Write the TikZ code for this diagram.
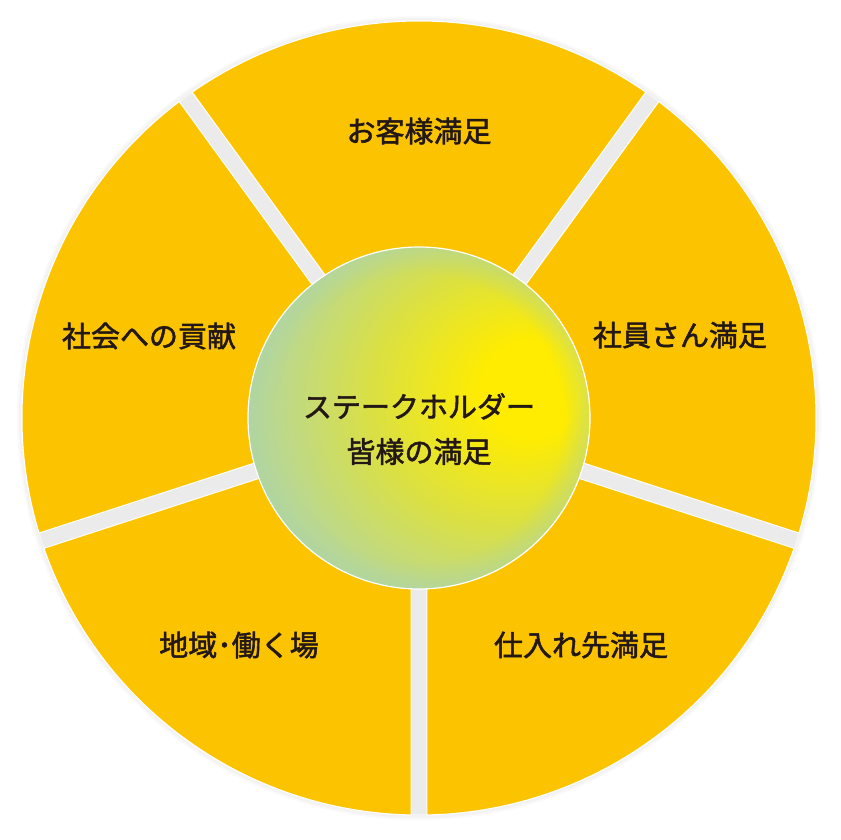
\documentclass[tikz,border=0pt]{standalone}
\usepackage{fontspec}
\setmainfont{Noto Sans CJK JP}
\newfontfamily\labelfont{Noto Sans CJK JP}[FakeBold=1.8]
\usepackage{xcolor}
\usepackage{tikz}
\usetikzlibrary{fadings}

\definecolor{secyellow}{HTML}{FCC400}
\definecolor{gapgrey}{HTML}{EBEBEB}
\definecolor{hubyellow}{HTML}{FFEC00}
\definecolor{hubmid}{HTML}{DAE044}
\definecolor{hubgreen}{HTML}{BBD88E}
\definecolor{hubteal}{HTML}{A6D3B6}
\definecolor{inkblack}{HTML}{231815}

\pgfdeclareradialshading{hubshade}{\pgfpoint{19bp}{5bp}}{color(0bp)=(hubyellow); color(7bp)=(hubyellow); color(19bp)=(hubmid); color(29bp)=(hubgreen); color(42bp)=(hubteal); color(50bp)=(hubteal)}
\pgfdeclareradialshading{rimshade}{\pgfpointorigin}{color(0bp)=(pgftransparent!100); color(21bp)=(pgftransparent!100); color(25bp)=(pgftransparent!62); color(50bp)=(pgftransparent!62)}
\pgfdeclarefading{rimfade}{\pgfuseshading{rimshade}}

\tikzset{
  sector/.style={fill=secyellow, draw=white, line width=1pt},
  label/.style={text=inkblack, font=\labelfont\fontsize{29}{35}\selectfont},
  hubtext/.style={text=inkblack, font=\labelfont\fontsize{29}{45}\selectfont, align=center}
}

\begin{document}
\begin{tikzpicture}[x=1pt,y=1pt]
  \useasboundingbox (-419,-421) rectangle (422,418);
  % soft shadow and grey gaps
  \fill[black,opacity=0.025] (0,0) circle (402);
  \fill[black,opacity=0.025] (0,0) circle (400);
  \fill[gapgrey] (0,0) circle (396);
  % five sectors
  \fill[sector] (90:13.6) -- (55.155:397) arc[start angle=55.155, end angle=124.845, radius=397] -- cycle;
  \fill[sector] (18:13.6) -- (-16.845:397) arc[start angle=-16.845, end angle=52.845, radius=397] -- cycle;
  \fill[sector] (-54:13.6) -- (-88.845:397) arc[start angle=-88.845, end angle=-19.155, radius=397] -- cycle;
  \fill[sector] (234:13.6) -- (199.155:397) arc[start angle=199.155, end angle=268.845, radius=397] -- cycle;
  \fill[sector] (162:13.6) -- (127.155:397) arc[start angle=127.155, end angle=196.845, radius=397] -- cycle;
  % hub
  \shade[shading=hubshade] (0,0) circle (171);
  \fill[hubteal, path fading=rimfade] (0,0) circle (171);
  \draw[white, line width=1.2pt] (0,0) circle (171);
  \node[hubtext] (hub) at (0,-11) {ステークホルダー\\皆様の満足};
  \node[label] (customer) at (0,287) {お客様満足};
  \node[label] (staff) at (261,83) {社員さん満足};
  \node[label] (supplier) at (162,-227) {仕入れ先満足};
  \node[label] (region) at (-180,-227) {地域･働く場};
  \node[label] (society) at (-270,82) {社会への貢献};
\end{tikzpicture}
\end{document}
